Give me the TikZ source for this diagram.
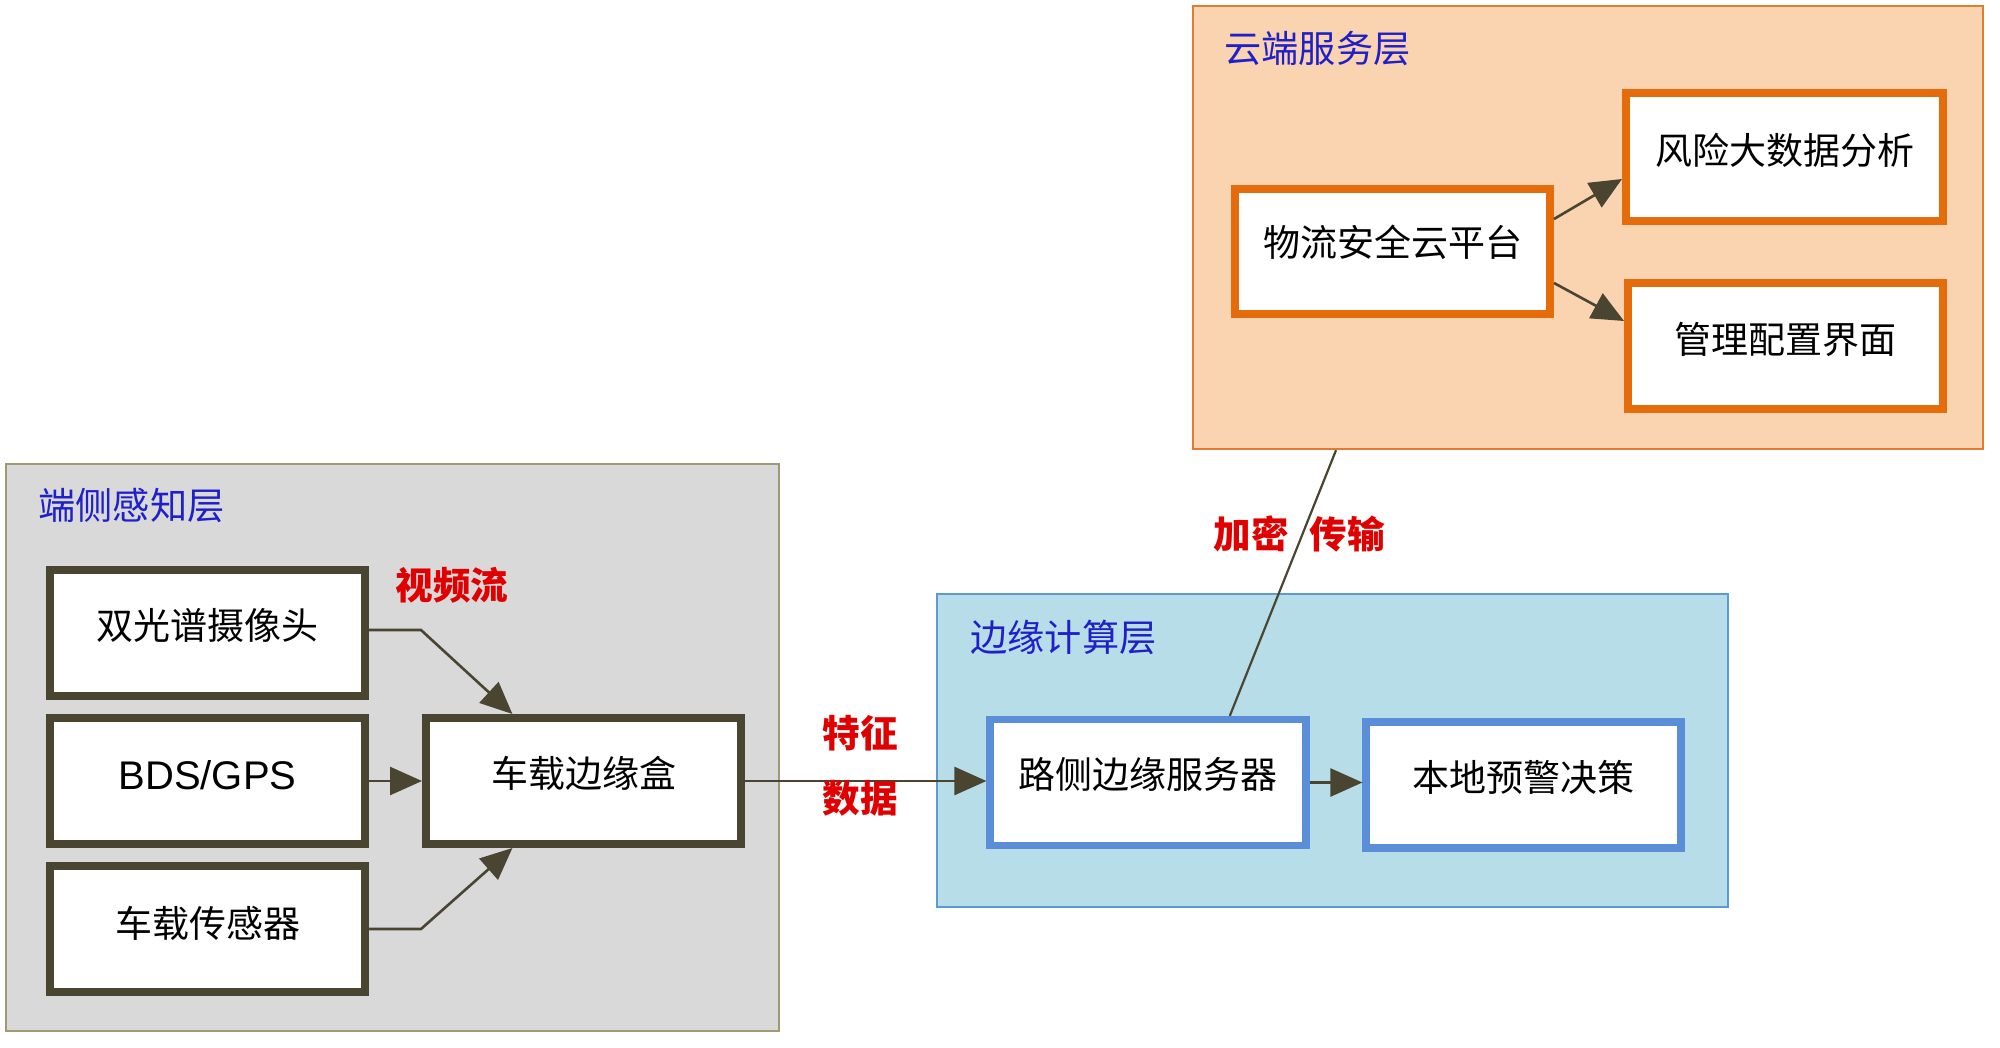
\documentclass[tikz,border=0pt]{standalone}
\usepackage{fontspec}
\setmainfont{Liberation Sans}
\newfontfamily\cjk{Noto Sans CJK SC}
\usetikzlibrary{arrows.meta,calc}
\definecolor{graypanel}{HTML}{D9D9D9}
\definecolor{grayedge}{HTML}{A09A74}
\definecolor{darkbox}{HTML}{4A4530}
\definecolor{bluepanel}{HTML}{B7DDE8}
\definecolor{blueedge}{HTML}{5B9BD5}
\definecolor{bluebox}{HTML}{5A8ED8}
\definecolor{orangepanel}{HTML}{FAD4B0}
\definecolor{orangeedge}{HTML}{E07B30}
\definecolor{orangebox}{HTML}{E46C0A}
\definecolor{titleblue}{HTML}{2020C8}
\definecolor{labelred}{HTML}{E00000}
\tikzset{
  panel/.style={rectangle, line width=1.2pt, inner sep=0pt},
  box/.style={rectangle, fill=white, line width=4pt, inner sep=0pt,
    minimum width=157.5pt, minimum height=63pt},
  boxtext/.style={font=\cjk\fontsize{18.5}{20}\selectfont, inner sep=0pt},
  title/.style={font=\cjk\fontsize{18.6}{20}\selectfont, text=titleblue, anchor=west, inner sep=0pt},
  redlabel/.style={font=\cjk\bfseries\fontsize{18.8}{20}\selectfont, text=labelred, inner sep=0pt},
  conn/.style={draw=darkbox, line width=1.3pt},
  arr/.style={conn, -{Triangle[length=16pt,width=14pt]}},
}
\begin{document}
\begin{tikzpicture}[x=0.5pt,y=-0.5pt]
\useasboundingbox[fill=white] (0,0) rectangle (2000,1048);
% panels
\node[panel, fill=graypanel, draw=grayedge, minimum width=386.5pt, minimum height=283.5pt] (gp) at (392.5,747.5) {};
\node[panel, fill=bluepanel, draw=blueedge, minimum width=395.5pt, minimum height=156.5pt] (bp) at (1332.5,750.5) {};
\node[panel, fill=orangepanel, draw=orangeedge, minimum width=395pt, minimum height=221.5pt] (op) at (1588,227.5) {};
% titles
\node[title] (t1) at (38,505) {端侧感知层};
\node[title] (t2) at (970,637) {边缘计算层};
\node[title] (t3) at (1224,49) {云端服务层};
% end layer boxes
\node[box, draw=darkbox] (cam) at (207.5,633) {};
\node[box, draw=darkbox] (gps) at (207.5,781) {};
\node[box, draw=darkbox] (sen) at (207.5,929) {};
\node[box, draw=darkbox] (edge) at (583.5,781) {};
\node[boxtext] (camt) at ($(cam)+(0,-8)$) {双光谱摄像头};
\node[inner sep=0pt, font=\fontsize{20}{22}\selectfont] (gpst) at ($(gps)+(0,-6)$) {BDS/GPS};
\node[boxtext] (sent) at ($(sen)+(0,-6)$) {车载传感器};
\node[boxtext] (edget) at ($(edge)+(0,-8)$) {车载边缘盒};
% edge layer boxes
\node[box, draw=bluebox, line width=3.6pt, minimum width=158pt] (srv) at (1148,782.5) {};
\node[box, draw=bluebox, line width=3.6pt] (loc) at (1523.5,785) {};
\node[boxtext] (srvt) at ($(srv)+(0,-8)$) {路侧边缘服务器};
\node[boxtext] (loct) at ($(loc)+(0,-8)$) {本地预警决策};
% cloud boxes
\node[box, draw=orangebox, minimum height=62.5pt] (cp) at (1392.5,251.5) {};
\node[box, draw=orangebox, minimum width=158.5pt, minimum height=64pt] (risk) at (1784.5,157) {};
\node[box, draw=orangebox] (mgmt) at (1785.5,346) {};
\node[boxtext] (cpt) at ($(cp)+(0,-9)$) {物流安全云平台};
\node[boxtext] (riskt) at ($(risk)+(0,-7)$) {风险大数据分析};
\node[boxtext] (mgmtt) at ($(mgmt)+(0,-7)$) {管理配置界面};
% connectors
\draw[arr] (cam.east |- 0,630) -- (421,630) -- ($(edge.north west)!0.28!(edge.north east)$);
\draw[arr] (gps.east) -- (edge.west);
\draw[arr] (sen.east) -- (421,929) -- ($(edge.south west)!0.28!(edge.south east)$);
\draw[arr] (edge.east) -- (srv.west |- edge.east);
\draw[arr] (srv.east) -- (loc.west |- srv.east);
\draw[arr] (cp.east |- 0,219) -- (risk.west |- 0,179);
\draw[arr] (cp.east |- 0,283) -- (mgmt.west |- 0,321);
\draw[conn, line width=1.1pt] ($(srv.north west)!0.753!(srv.north east)$) -- ($(op.south west)!0.182!(op.south east)$);
% labels
\node[redlabel] (l1) at (452,585) {视频流};
\node[redlabel] (l2) at (860,733) {特征};
\node[redlabel] (l3) at (860,798) {数据};
\node[redlabel] (l4) at (1251,534) {加密};
\node[redlabel] (l5) at (1347,534) {传输};
\end{tikzpicture}
\end{document}
